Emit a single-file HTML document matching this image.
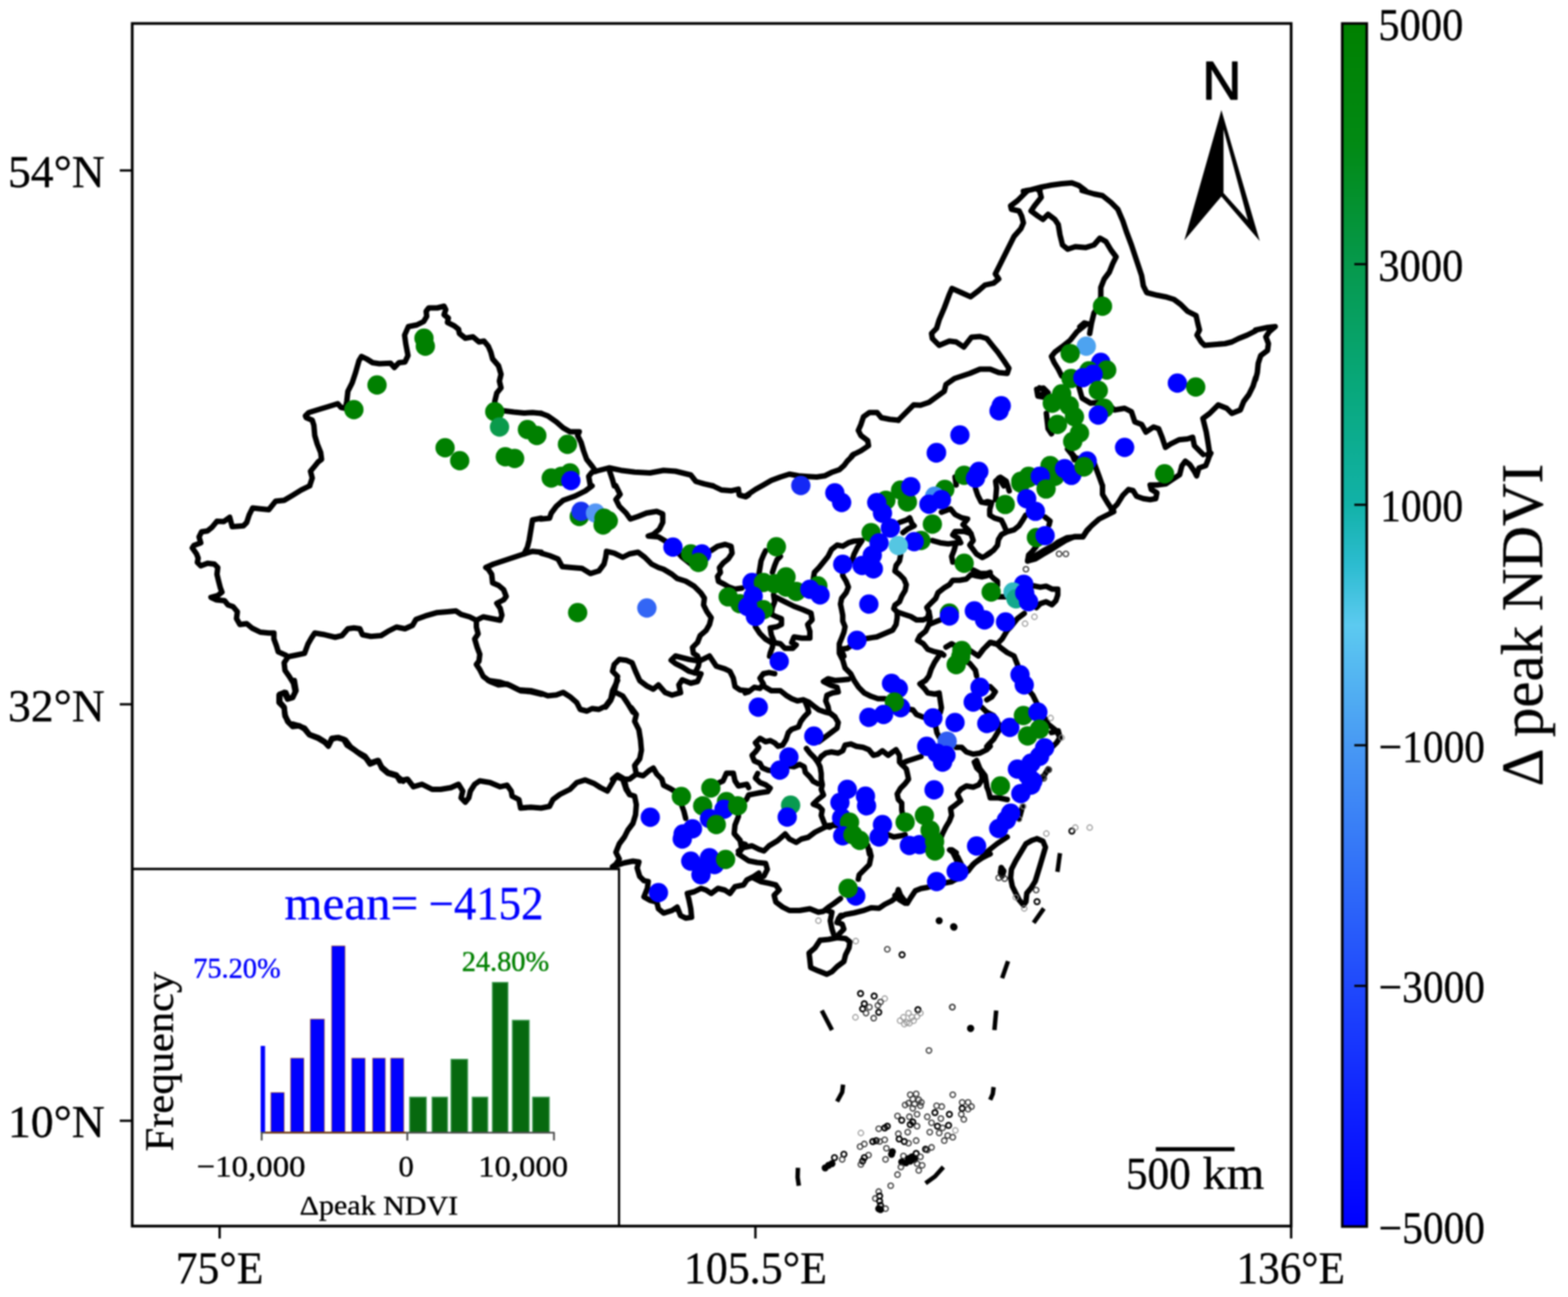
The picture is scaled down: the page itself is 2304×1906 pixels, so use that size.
<!DOCTYPE html>
<html lang="en">
<head>
<meta charset="utf-8">
<title>Δ peak NDVI map</title>
<style>
html,body{margin:0;padding:0;background:#fff;}
body{width:2304px;height:1906px;overflow:hidden;}
svg{display:block;}
text{font-family:"Liberation Serif","DejaVu Serif",serif;fill:#000;stroke:#000;stroke-width:0.5px;stroke-linejoin:round;}
.map path{fill:none;stroke:#000;stroke-width:8;stroke-linejoin:round;stroke-linecap:round;}
</style>
</head>
<body>
<svg xmlns="http://www.w3.org/2000/svg" width="2304" height="1906" viewBox="0 0 2304 1906">
<rect width="2304" height="1906" fill="#fff"/>
<g style="filter:blur(0.85px)">
<g class="map">
<path d="M455 714 L458.8 702.5 L456.2 692.5 L462.5 685 L467.5 678.8 L472.5 675 L471.2 665 L466.2 652.5 L462.5 640 L461.2 625 L458.8 617.5 L450 613.8 L448.8 611.2 L453.8 606.2 L470 601.2 L482.5 597.5 L496.2 593.2 L501.2 598.8 L507.5 600 L509.5 590 L511.2 575 L517.5 562.5 L522.5 547.5 L527.5 530 L531.2 523.8 L538.8 527.5 L547.5 533 L557.5 534.5 L573.8 533.8 L579.5 540 L586.2 533 L595 532 L599.5 522.5 L596.2 505 L594.5 492.5 L600 480 L612.5 477.5 L622.5 472.5 L627 465 L626.2 457.5 L630 452.5 L642.5 452.5 L652.5 450 L655 455 L652.5 462.5 L658.8 467.5 L657.5 473.8 L667.5 478.8 L673.8 483.8 L675 490 L683.8 497 L695 495 L703.8 502.5 L711.2 501.2 L717.5 508.8 L721.2 517.5 L723.8 527.5 L732.5 537.5 L736.2 550 L733.8 560 L736.2 570 L730 577.5 L727 590 L728.8 602.5 L741.2 603.8 L755 605.5 L770 607 L782.5 606.2 L795 607.5"/>
<path d="M795 607.5 L805 611.2 L817.5 620 L827.5 628.8 L837.5 634.5 L851.2 634.5 L848.8 640 L853.8 650 L857.5 662.5 L862 675 L870 685 L875.5 692.5 L895 687.5 L912.5 691.2 L932.5 693.8 L955 695 L975 691.2 L992.5 692.5 L1015 698 L1022.5 707.5 L1035 711.2 L1047.5 714"/>
<path d="M1250.9 671 L1252.5 668.8 L1265 662.5 L1276.2 655 L1275 647.5 L1265 640 L1261.2 632.5 L1265 623.8 L1268.8 612.5 L1277.5 606.2 L1288.8 606.2 L1295 613.8 L1307.5 616.2 L1320 617.5"/>
<path d="M875.5 692.5 L870 693.8 L865 700 L867.5 714"/>
<path d="M895 690 L900 705 L902.5 714"/>
<path d="M1320 617.5 L1330 607.5 L1342.5 595 L1352.5 595.5 L1365 591.2 L1378.8 581.2 L1387.5 575 L1390 565 L1402.5 556.2 L1417.5 551.2 L1425 548.8 L1440 542.5 L1455 542.5 L1467.5 547.5 L1480 548.8 L1482.5 541.2 L1475 530 L1466.2 517.5 L1460 510 L1450 497.5 L1440 494.5 L1427.5 495.5 L1416.2 510 L1405 502.5 L1395 501.2 L1380 507.5 L1370 497.5 L1368.8 490 L1376.2 482.5 L1380 470 L1387.5 452.5 L1395 432.5 L1398.8 423.8 L1412.5 430 L1426.2 436.2 L1437.5 427.5 L1447.5 418.8 L1460 416.2 L1467.5 410 L1462.5 402.5 L1468.8 390 L1475 377.5 L1482.5 362.5 L1490 347.5 L1500 336.2 L1503.8 327.5 L1501.2 317.5 L1497.5 310 L1486.2 307.5 L1485 302.5 L1495 295 L1505 285 L1510 280"/>
<path d="M1527.5 280 L1530 290 L1520 302.5 L1515 310 L1525 317.5 L1532.5 322.5 L1540 315 L1550 322.5 L1555 330 L1557.5 345 L1561.2 360 L1568.8 366.2 L1580 362.5 L1595 363.8 L1607.5 360 L1616.2 350 L1625 355 L1632.5 367.5 L1640 377.5 L1635 387.5 L1630 400 L1622.5 410 L1617.5 422.5 L1617.5 436.2 L1612.5 452.5 L1607.5 460 L1603.8 475 L1601.2 490"/>
<path d="M1595 477.5 L1582.5 487.5 L1572.5 500 L1560 510 L1550 517.5 L1545 523.8 L1548.8 532.5 L1555 542.5 L1560 552.5"/>
<path d="M1590 280 L1607.5 285 L1620 287.5 L1632.5 297.5 L1642.5 307.5 L1650 325 L1655 340 L1662.5 360 L1667.5 375 L1672.5 390 L1677.5 405 L1680 420 L1685 430 L1700 433.8 L1712.5 436.2 L1725 440 L1735 447.5 L1745 457.5 L1757.5 463.8 L1760 475 L1762.5 485 L1758.8 492.5 L1765 502.5 L1770 507.5 L1785 506.2 L1800 505 L1810 502.5 L1820 497.5 L1832.5 492.5 L1845 486.2"/>
<path d="M1585 567.5 L1590 585 L1602.5 592.5 L1615 591.2 L1627.5 592.5 L1637.5 602.5 L1652.5 600 L1662.5 605 L1667.5 620 L1677.5 623.8 L1683.8 635 L1695 627.5 L1702.5 630 L1707.5 642.5 L1712.5 657.5 L1720 652.5 L1732.5 646.2 L1745 645 L1752.5 642.5 L1755 655 L1768 668"/>
<path d="M1773.9 668 L1777.5 666.2"/>
<path d="M1845 555 L1841.2 567.5 L1835 580 L1827.5 590 L1822.5 602.5 L1810 607.5 L1802.5 600 L1790 595 L1777.5 607.5 L1767.5 615 L1772.5 635 L1775 650 L1777.5 666.2 L1776.5 668"/>
<path d="M1527.5 570 L1537.5 575 L1532.5 580 L1525 580"/>
<path d="M1537.5 607.5 L1540 630 L1545 637.5"/>
<path d="M1570 660 L1580 672.5 L1607.5 680 L1615 700 L1620 714"/>
<path d="M1467.5 702.5 L1475 714"/>
<path d="M1510 280 L1503.8 281.2"/>
<path d="M1503.8 281.2 L1515 278.8 L1530 275 L1545 272 L1560 270 L1575 268.8 L1585 272.5 L1595 280"/>
<path d="M1525 278.8 L1528 280.5"/>
<path d="M1845 485 L1862.5 481.2 L1873.8 480 L1865 487.5 L1860 495 L1863.8 505 L1862.5 515 L1852.5 522.5 L1848.8 534 L1847.5 547.5 L1845 557.5"/>
<path d="M455 714 L442.5 720.2 L430 727.8 L417.5 735.2 L405 736.5 L395 749 L382.5 747.8 L371.2 746.5 L366.2 756.5 L362.5 767.8 L357.5 772.8 L341.2 774 L337.5 760.2 L328.8 766.5 L318.8 766 L311.2 775.2 L305 780.2 L296.2 781.5 L292.5 789 L295 797.8 L285 801.5 L282.5 805.2 L288.8 814 L291.2 820.2 L290 826.5 L295 831.5 L305 827.8 L315 829 L320 834 L318.8 844 L321.2 854 L323.8 864 L326.2 870.2 L320 875.2 L310 877.8 L317.5 881.5 L330 882.8 L335 889 L342.5 891.5 L348.8 899 L347.5 909 L352.5 917.8 L362.5 916.5 L370 922.8 L382.5 929 L395 930.2 L402.5 930.2 L402.5 939 L406.2 949 L408.8 957.8 L420 962.8 L422.5 966.5 L417.5 974 L418.8 985.2 L425 994 L431.2 1004 L433.8 1016.5 L430 1025.2 L423.8 1026.5 L420 1017.8 L411.2 1020.2 L411.2 1031.5 L417.5 1039 L418.8 1050.2 L422.5 1060.2 L430 1067.8 L440 1066.5 L447.5 1071.5 L453.8 1079 L467.5 1084 L477.5 1090.2 L482.5 1096.5 L487.5 1086.5 L495 1084 L505 1086.5 L510 1095.2 L520 1101.5 L530 1109 L537.5 1114 L543.8 1122.8 L556.2 1117.8 L561.2 1129 L570 1136.5 L582.5 1140.2 L592.5 1148"/>
<path d="M422.5 965.2 L435 962.8 L447.5 960.2 L452.5 946.5 L457.5 937.8 L462.5 930.2 L477.5 932.8 L492.5 936.5 L502.5 934 L511.2 924 L520 922.8 L528.8 924 L532.5 932.8 L545 935.2 L560 934 L570 927.8 L582.5 921.5 L595 924 L606.2 919 L611.2 910.2 L625 905.2 L642.5 900.2 L657.5 899 L670 897.8 L677.5 902.8 L690 906.5 L700 911.5"/>
<path d="M700 911.5 L710 906.5 L722.5 909 L735 911.5 L737.5 904 L735 894 L730 886.5 L740 881.5 L743.8 876.5 L740 866.5 L732.5 860.2 L723.8 856.5 L722.5 844 L717.5 836.5 L713.8 834 L725 829 L740 824 L755 819 L770 814 L782.5 810.2 L795 811.5"/>
<path d="M770 814 L775 804 L777.5 794 L780 779 L782.5 764 L795 761.5"/>
<path d="M700 911.5 L700 921.5 L702.5 931.5 L697.5 939 L701.2 951.5 L705 961.5 L703.8 971.5 L700 976.5 L705 984 L710 994 L720 1001.5 L732.5 1006.5 L745 1005.2 L755 1010.2 L765 1015.2 L780 1016.5 L795 1020.2"/>
<path d="M870 714 L860 721.5 L845 729 L827.5 735.2 L817.5 744 L810 754 L807.5 761.5 L795 762.8"/>
<path d="M905 714 L911.2 726.5 L905 734 L910 744 L920 754 L926.2 762.8 L937.5 759 L950 754 L965 751.5 L973.8 755.2 L973.8 767.8 L968.8 777.8 L960 785.2 L952.5 787.8 L967.5 789 L980 796.5 L988.8 804 L1002.5 819 L1015 829"/>
<path d="M795 812.8 L807.5 816.5 L820 821.5 L826.2 832.8 L840 834 L855 835.2 L867.5 842.8 L880 839 L887.5 829 L890 819 L891.2 810.2 L902.5 812.8 L915 819 L925 814 L937.5 811.5 L947.5 819 L957.5 829 L967.5 834 L975 836.5 L987.5 844 L995 850.2 L1007.5 854 L1020 861.5 L1030 871.5 L1035 879 L1033.8 889 L1038.8 899 L1045 907.8 L1042.5 917.8 L1037.5 926.5 L1028.8 934 L1025 944 L1017.5 951.5 L1018.8 960.2 L1025 964 L1027.5 971.5"/>
<path d="M1027.5 971.5 L1012.5 969 L1002.5 966.5 L992.5 964 L986.2 970.2 L992.5 975.2 L1002.5 980.2 L1012.5 986.5 L1021.2 989 L1026.2 979 L1027.5 971.5"/>
<path d="M1021.2 989 L1030 990.2 L1025 1001.5 L1015 1004 L1002.5 999 L997.5 1006.5 L1000 1017.8 L987.5 1021.5 L977.5 1017.8 L967.5 1006.5 L960 1012.8 L950 1007.8 L940 1000.2 L933.8 986.5 L928.8 974 L920 970.2 L910 969 L902.5 976.5 L900 986.5 L907.5 994 L905 1006.5 L902.5 1016.5"/>
<path d="M890 1039 L897.5 1029 L902.5 1016.5"/>
<path d="M902.5 1016.5 L915 1022.8 L922.5 1034 L930 1046.5"/>
<path d="M1027.5 971.5 L1035 967.8 L1042.5 964 L1047.5 971.5 L1052.5 979 L1065 982.8 L1072.5 986.5 L1077.5 996.5 L1080 1009 L1087.5 1014 L1100 1015.2"/>
<path d="M1045.7 808.6 L1054.3 802.9 L1065.7 800 L1074.3 802.9 L1075.7 812.9 L1070 821.4 L1062.9 827.1 L1057.1 834.3 L1058.6 841.4 L1054.3 847.1 L1055.7 854.3 L1064.3 858.6 L1071.4 862.9 L1080 865.7 L1090 864.3"/>
<path d="M1450 815.4 L1451.4 814.3 L1460 808.6 L1465.7 801.4 L1467.1 792.9 L1471.4 785.7 L1480 781.4 L1490 778.6 L1497.1 772.9 L1502.9 764.3 L1507.1 757.1"/>
<path d="M1450 737.3 L1451.4 737.1 L1457.1 738.6 L1454.3 748.6 L1454.3 757.1 L1461.4 761.4 L1471.4 764.3 L1475.7 772.9 L1478.6 780"/>
<path d="M1462.9 734.3 L1464.3 717.1 L1462.9 707.1 L1470 701.4 L1478.6 707.1 L1482.9 721.4"/>
<path d="M1450 845 L1454.3 844.3 L1460 850 L1465.7 854.3 L1465.7 860"/>
<path d="M1510 824.3 L1521.4 821.4 L1532.9 814.3 L1542.9 808.6 L1554.3 801.4 L1565.7 794.3 L1578.6 788.6 L1591.4 788.6 L1597.1 780 L1600 777.1"/>
<path d="M1510 824.3 L1511.4 815.7 L1517.1 810 L1522.9 802.9"/>
<path d="M1512.9 820 L1522.9 815.7 L1534.3 808.6 L1545.7 802.9"/>
<path d="M1535.7 760 L1542.9 765.7 L1541.4 771.4"/>
<path d="M1514.3 860 L1528.6 862.9 L1537.1 861.4 L1545.7 865.7 L1554.3 865.7 L1554.3 874.3 L1551.4 882.9 L1545.7 888.6 L1537.1 884.3 L1528.6 887.1 L1522.9 892.9"/>
<path d="M1465.7 877.1 L1477.1 877.1"/>
<path d="M1568.6 660 L1575.7 668.6 L1578.6 675.7"/>
<path d="M1636.5 752 L1627.5 756.5 L1615 762.8 L1605 771.5 L1597.5 779 L1591.2 789 L1580 789 L1567.5 790.2 L1555 796.5 L1545 804"/>
<path d="M1620 714 L1620 726.5 L1627.5 739 L1632.5 746.5 L1636 750"/>
<path d="M1505 901.5 L1495 909 L1485 921.5 L1480 926.5 L1472.5 939 L1465 946.5 L1470 951.5 L1480 959 L1490 964 L1495 976.5 L1498.8 991.5 L1505 1006.5 L1517.5 1021.5 L1522.5 1031.5 L1530 1046.5 L1540 1064 L1552.5 1074 L1557.5 1084 L1552.5 1091.5 L1545 1099"/>
<path d="M1545 1076.5 L1555 1074 L1557.5 1084"/>
<path d="M1465 946.5 L1455 944 L1450 949"/>
<path d="M1450 1009 L1455 1009 L1462.5 1016.5 L1457.5 1024 L1450 1028.5"/>
<path d="M1450 1046.5 L1460 1051.5 L1467.5 1064 L1467.5 1074 L1460 1086.5 L1452.5 1094 L1450 1097.1"/>
<path d="M432.5 1000 L435 1015 L430 1025 L422.5 1027.5 L417.5 1017.5 L410 1021.2 L410 1032.5 L417.5 1040 L418.8 1052.5 L425 1062.5 L437.5 1066.2 L447.5 1070 L455 1080 L467.5 1085 L477.5 1091.2 L482.5 1096.2 L487.5 1085 L497.5 1083.8 L507.5 1087.5 L515 1097.5 L525 1105 L536.2 1111.2 L543.8 1121.2 L555 1117.5 L561.2 1127.5 L570 1135 L582.5 1138.8 L587.5 1147.5 L598.8 1145 L607.5 1156.2 L620 1152.5 L635 1160 L647.5 1160 L662.5 1157.5 L673.8 1152.5 L680 1162.5 L677.5 1172.5 L683.8 1178.8 L688.8 1172.5 L691.2 1162.5 L697.5 1152.5 L705 1147.5 L720 1150 L735 1156.2 L745 1153.8 L751.2 1162.5 L752.5 1170 L762.5 1175 L765 1187.5 L780 1186.2 L795 1187.5 L807.5 1185 L812.5 1175 L822.5 1167.5 L837.5 1160 L847.5 1150 L860 1146.2 L872.5 1151.2 L882.5 1157.5 L892.5 1162.5 L900 1150 L905 1141.2 L915 1145 L920 1160 L925 1167.5"/>
<path d="M717.5 1000 L735 1002.5 L750 1007.5 L762.5 1013.8 L780 1015 L795 1018.8 L805 1022.5 L817.5 1021.2 L827.5 1017.5 L837.5 1023.8 L847.5 1032.5 L852.5 1042.5 L862.5 1045 L870 1041.2 L880 1042.5 L890 1037.5 L897.5 1027.5 L900 1015 L905 1005 L907.5 1000"/>
<path d="M927.5 1040 L935 1050 L932.5 1060 L938.8 1072.5 L941.2 1087.5 L942.5 1102.5 L940 1115 L932.5 1125 L935 1137.5 L925 1145 L917.5 1145"/>
<path d="M900 1145 L907.5 1138.8 L917.5 1145 L920 1157.5 L925 1167.5 L932.5 1170 L935 1182.5 L933.8 1197.5 L930 1210 L922.5 1220 L917.5 1230 L910 1240 L905 1252.5 L910 1262.5 L905 1270 L900 1273.8"/>
<path d="M935 1137.5 L945 1140 L953.8 1132.5 L960 1128.8 L965 1137.5 L972.5 1145 L975 1153.8 L985 1158.8 L995 1165 L1005 1192.5 L1007.5 1202.5"/>
<path d="M1043.8 1156.2 L1062.5 1147.5 L1067.5 1136.2 L1077.5 1136.2 L1080 1147.5 L1085 1155 L1097.5 1152.5 L1100 1157.5"/>
<path d="M1095 1240.8 L1092.5 1240"/>
<path d="M1085 1190 L1085 1200 L1080 1212.5 L1078.8 1225 L1087.5 1235 L1090 1247.5 L1085 1255 L1092.5 1260 L1100 1265 L1112.5 1267.5 L1125 1268.8 L1127.5 1277.5 L1122.5 1287.5 L1112.5 1290"/>
<path d="M1397.5 1249 L1400 1250 L1407.5 1260 L1412.5 1270"/>
<path d="M905 1271.8 L917.5 1268 L930 1265.5 L938.8 1266.8 L936.2 1275.5 L940 1288 L946.2 1294.2 L952.5 1295.5 L951.2 1305.5 L946.2 1318 L955 1323 L965 1325.5 L967.5 1335.5 L975 1341.8 L987.5 1338 L995 1333 L1000 1345.5 L1007.5 1349.2 L1016.2 1348 L1015 1335.5 L1012.5 1323 L1010 1313 L1020 1310.5 L1030 1305.5 L1037.5 1308 L1045 1313 L1055 1305.5 L1065 1308 L1072.5 1313 L1080 1303 L1092.5 1300.5 L1097.5 1293 L1107.5 1288 L1115 1283"/>
<path d="M1107.5 1290.5 L1117.5 1295.5 L1130 1298 L1140 1300.5 L1145 1308 L1137.5 1315.5 L1140 1325.5 L1150 1333 L1160 1338 L1175 1338 L1190 1335.5 L1202.5 1340.5 L1210 1339.2 L1217.5 1333 L1225 1328 L1235 1320.5"/>
<path d="M1215 1338 L1222.5 1340.5 L1220 1353 L1222.5 1365.5 L1225 1373"/>
<path d="M1232.5 1373 L1240 1365.5 L1237.5 1358 L1230 1355.5 L1235 1345.5 L1236 1345.1"/>
<path d="M1205 1381.8 L1217.5 1380.5 L1230 1378 L1242.5 1379.2 L1248.8 1384.2 L1247.5 1393 L1242.5 1403 L1240 1413 L1230 1420.5 L1222.5 1428 L1215 1431.8 L1202.5 1426.8 L1191.2 1421.8 L1190 1410.5 L1188.8 1400.5 L1197.5 1393 L1205 1381.8"/>
<path d="M1277.8 1249 L1280 1258 L1277.5 1270.5 L1270 1278 L1262.5 1285.5 L1261.2 1292"/>
<path d="M1399 1249 L1405 1253"/>
<path d="M1523.8 1232.5 L1532.5 1236.2 L1536.2 1245 L1532.5 1257.5 L1528.8 1270 L1525 1282.5 L1521.2 1295 L1515 1305 L1508.8 1312.5 L1507.5 1325 L1503.8 1330 L1497.5 1322.5 L1492.5 1312.5 L1487.5 1302.5 L1485 1290 L1486.2 1277.5 L1492.5 1265 L1500 1252.5 L1507.5 1240 L1516.2 1235 L1523.8 1232.5"/>
<path d="M1471.2 1275 L1475 1280 L1472.5 1287.5 L1470 1282.5 L1471.2 1275"/>
<path d="M1540 1130 L1532.5 1142.5 L1525 1150"/>
<path d="M1502.5 1185 L1497.5 1203.8"/>
<path d="M1480 1230 L1465 1240 L1452.5 1250 L1442.5 1260 L1430 1270 L1422.5 1280 L1410 1290 L1406 1292"/>
<path d="M1450 1156.2 L1452.5 1162.5 L1455 1172.5 L1467.5 1172.5 L1480 1175"/>
<path d="M1395.3 1249 L1400 1252.5 L1405 1262.5 L1408.8 1272.5"/>
<path d="M1047.5 714 L1060 720 L1075 721.2 L1085 718.8 L1086.2 727.5 L1096.2 730 L1100 727.5"/>
<path d="M1095 1018.3 L1100 1016.7 L1108.3 1010 L1116.7 1011.7 L1121.7 1005 L1116.7 996.7 L1121.7 990 L1130 988.3 L1138.3 990"/>
<path d="M1121.7 1008.3 L1133.3 1015 L1146.7 1015 L1155 1021.7 L1163.3 1026.7 L1171.7 1030 L1180 1028.3 L1188.3 1031.7 L1196.7 1038.3 L1203.3 1043.3 L1213.3 1046.7 L1220 1048.3 L1226.7 1053.3 L1231.7 1061.7 L1230 1070 L1223.3 1075 L1216.7 1080 L1210 1085 L1203.3 1090"/>
<path d="M1183.3 1031.7 L1186.7 1040 L1188.3 1046.7 L1181.7 1053.3 L1176.7 1060 L1173.3 1068.3 L1163.3 1071.7 L1158.3 1076.7 L1155 1086.7 L1150 1095 L1143.3 1096.7 L1138.3 1091.7 L1131.7 1088.3 L1125 1090 L1116.7 1085 L1110 1091.7 L1115 1098.3 L1110 1105 L1105 1110 L1108.3 1118.3 L1116.7 1121.7 L1120 1128.3 L1128.3 1131.7 L1138.3 1133.3"/>
<path d="M1155 1125 L1166.7 1126.7 L1175 1123.3 L1181.7 1126.7 L1183.3 1135 L1190 1141.7 L1195 1148.3 L1201.7 1151.7"/>
<path d="M1113.3 1136.7 L1110 1143.3 L1116.7 1150 L1125 1153.3 L1131.7 1158.3 L1128.3 1163.3 L1116.7 1165 L1108.3 1166.7 L1100 1168.3 L1096.7 1175"/>
<path d="M1185 1100 L1190 1106.7 L1196.7 1113.3 L1201.7 1120 L1205 1126.7 L1206.7 1136.7 L1206.7 1145 L1208.3 1153.3 L1206.7 1160 L1210 1168.3 L1201.7 1175 L1195 1181.7 L1203.3 1185 L1208.3 1190 L1206.7 1198.3 L1210 1206.7 L1213.3 1215 L1220 1215 L1226.7 1210"/>
<path d="M1233.3 956.7 L1233.3 960 L1238.3 970 L1241.7 981.7 L1250 990 L1255 1000 L1261.7 1010 L1270 1018.3 L1280 1023.3 L1290 1026.7 L1300 1026.7"/>
<path d="M1246.7 998.3 L1236.7 999.2 L1226.7 1000 L1216.7 997.5 L1210 1001.7 L1220 1006.7 L1230 1010 L1231.7 1016.7 L1223.3 1018.3 L1215 1021.7 L1213.3 1030 L1216.7 1038.3 L1218.3 1046.7 L1226.7 1053.3"/>
<path d="M1206.7 1111.7 L1213.3 1106.7 L1221.7 1105 L1231.7 1106.7 L1238.3 1103.3 L1241.7 1095 L1250 1093.3 L1258.3 1096.7 L1268.3 1098.3 L1276.7 1101.7 L1283.3 1110 L1290 1108.3 L1296.7 1103.3 L1305 1110 L1311.7 1105 L1316.7 1101.7 L1321.7 1110 L1321.7 1120 L1325 1123.3"/>
<path d="M1325 1121.7 L1333.3 1118.3 L1343.3 1115 L1353.3 1111.7"/>
<path d="M1325 1123.3 L1331.7 1130 L1333.3 1136.7 L1335 1145 L1330 1151.7 L1323.3 1158.3 L1318.3 1166.7 L1320 1175 L1325 1180 L1325 1190 L1326.7 1200"/>
<path d="M1380 963.3 L1373.3 973.3 L1368.3 983.3 L1365 993.3 L1360 1000 L1351.7 1005 L1358.3 1011.7 L1363.3 1018.3 L1373.3 1020 L1380 1018.3 L1381.7 1030 L1383.3 1040 L1381.7 1046.7"/>
<path d="M1375 1068.3 L1376.7 1076.7 L1380 1083.3"/>
<path d="M1333.3 1041.7 L1341.7 1043.3 L1346.7 1050 L1355 1053.3 L1361.7 1055"/>
<path d="M1405 1098.3 L1413.3 1098.3 L1420 1105 L1430 1108.3 L1440 1106.7 L1450 1101.7 L1455 1096.7"/>
<path d="M1431.7 1120 L1435 1128.3 L1441.7 1135 L1443.3 1145 L1438.3 1153.3 L1430 1156.7 L1420 1155 L1411.7 1160 L1406.7 1166.7 L1411.7 1176.7 L1403.3 1183.3 L1396.7 1188.3 L1398.3 1198.3 L1395 1206.7 L1390 1215 L1385 1225 L1381.7 1233.3"/>
<path d="M1416.7 970 L1425 975 L1433.3 985 L1435 993.3"/>
<path d="M1443.3 1040 L1450 1046.7"/>
<path d="M1219 1215.5 L1220 1215"/>
<path d="M1305 1226.7 L1313.3 1230 L1323.3 1228.3 L1330 1226.7"/>
<path d="M1201.7 1120 L1206.7 1111.7"/>
<path d="M1095 729.3 L1100 726 L1110 719.3 L1121.7 712.7 L1133.3 706 L1146.7 701 L1160 696.8 L1173.3 699.3 L1186.7 700.2 L1200 701 L1211.7 699.3 L1221.7 694.3 L1233.3 690.2 L1240 684.3 L1245 677.7 L1251.7 671 L1254.2 667.7"/>
<path d="M1115 844.3 L1116.7 834.3 L1118.3 824.3 L1121.7 816 L1125 809.3"/>
<path d="M1135 841 L1138.3 831 L1141.7 822.7 L1146.7 817.7"/>
<path d="M1195 851 L1196.7 841 L1203.3 834.3 L1210 826 L1216.7 817.7 L1221.7 807.7 L1230 801 L1238.3 802.7 L1246.7 797.7 L1255 795.2 L1266.7 794.3 L1260 804.3 L1255 814.3 L1251.7 824.3"/>
<path d="M1238.3 837.7 L1238.3 846 L1243.3 854.3 L1246.7 862.7 L1243.3 871 L1236.7 879.3 L1235 887.7 L1236.7 896 L1238.3 904.3 L1238.3 912.7 L1241.7 921 L1240 929.3 L1236.7 937.7 L1233.3 946 L1233.3 954.3 L1238.3 960 L1240 964.3"/>
<path d="M1323.3 809.3 L1323.3 816 L1321.7 824.3 L1316.7 831 L1315 839.3 L1321.7 844.3 L1328.3 851 L1331.7 859.3 L1330 867.7 L1325 876 L1321.7 884.3 L1315 889.3 L1313.3 894.3 L1318.3 899.3 L1318.3 907.7 L1316.7 917.7 L1311.7 926 L1300 931 L1288.3 936 L1276.7 937.7 L1266.7 939.3 L1255 946 L1245 952.7 L1235 954.3"/>
<path d="M1318.3 899.3 L1328.3 902.7 L1338.3 906 L1346.7 911 L1356.7 911 L1363.3 907.7 L1365 899.3"/>
<path d="M1365 899.3 L1361.7 892.7 L1368.3 886 L1375 879.3 L1378.3 871 L1386.7 864.3 L1395 859.3 L1400 852.7 L1410 852.7 L1420 851 L1426.7 844.3 L1433.3 846 L1443.3 847.7 L1450 846 L1455 844.3"/>
<path d="M1365 899.3 L1366.7 907.7 L1365 917.7 L1373.3 914.3 L1381.7 911"/>
<path d="M1365 917.7 L1360 927.7 L1351.7 934.3 L1348.3 941 L1356.7 946 L1363.3 954.3 L1373.3 957.7 L1383.3 960 L1386.7 962.7"/>
<path d="M1390 951 L1398.3 946 L1406.7 951"/>
<path d="M1321.7 767.7 L1331.7 764.3 L1336.7 761 L1340 769.3 L1343.3 772.7 L1333.3 777.7 L1326.7 782.7"/>
<path d="M1383.3 752.7 L1396.7 747.7 L1403.3 756 L1413.3 761 L1421.7 762.7 L1415 771 L1423.3 779.3 L1426.7 784.3 L1416.7 781 L1403.3 781 L1400 786 L1408.3 791 L1411.7 797.7 L1405 797.7 L1393.3 799.3 L1381.7 797.7 L1370 794.3"/>
<path d="M1426.7 784.3 L1430 794.3 L1425 801 L1430 807.7 L1435 814.3 L1443.3 819.3 L1450 816 L1455 812.7"/>
<path d="M1405 797.7 L1401.7 809.3 L1398.3 817.7 L1400 826"/>
<path d="M1430 837.7 L1440 842.7 L1450 842.7 L1455 841"/>
<path d="M1403.3 701 L1405 712.7"/>
<path d="M1433.3 717.7 L1436.7 727.7 L1441.7 737.7 L1450 739.3 L1455 739.3"/>
<path d="M1136.7 874.3 L1138.3 884.3 L1135 892.7 L1133.3 902.7 L1140 906 L1148.3 909.3 L1148.3 917.7 L1141.7 921 L1131.7 922.7 L1133.3 932.7 L1136.7 941 L1135 951 L1131.7 960 L1130.8 964.3"/>
<path d="M1140 877.7 L1153.3 884.3 L1166.7 891 L1180 896 L1191.7 901 L1193.3 911 L1186.7 917.7 L1190 927.7 L1190 937.7 L1178.3 937.7 L1166.7 936 L1163.3 944.3 L1170 947.7 L1165 952.7 L1153.3 952.7 L1146.7 946 L1136.7 944.3"/>
<path d="M1110 921 L1116.7 931 L1125 939.3 L1133.3 944.3"/>
<path d="M1633.3 749.3 L1641.7 741 L1650 727.7 L1658.3 719.3 L1665 721 L1670 729.3 L1680 732.7 L1690 734.3 L1698.3 732.7 L1700 724.3 L1691.7 719.3 L1690 712.7 L1700 712.7 L1713.3 711 L1723.3 704.3 L1733.3 697.7 L1736.7 684.3 L1741.7 677.7 L1748.3 682.7 L1755 692.7 L1758.3 699.3 L1761.7 687.7 L1771.7 684.3 L1775 676 L1776.7 671 L1779.2 666"/>
<path d="M1275 1242.5 L1277.5 1255"/>
<path d="M1435 1117.5 L1440 1130 L1447.5 1140 L1450 1155"/>
<path d="M1230 1355.7 L1232.5 1349 L1241.7 1344 L1255 1341.5 L1268.3 1338.2 L1280 1334 L1291.7 1334.8 L1300 1329 L1310 1324 L1316.7 1319 L1320 1307.3 L1323.3 1315.7 L1328.3 1322.3 L1333.3 1327.3 L1338.3 1319 L1345 1309 L1353.3 1305.7 L1363.3 1304 L1375 1300.7 L1390 1297.3 L1398.3 1295.7 L1406.7 1290.7 L1416.7 1282.3 L1425 1275.7 L1433.3 1267.3 L1443.3 1260.7 L1450 1257.3 L1455 1254.8"/>
<path d="M1315 1315.7 L1321.7 1322.3 L1330 1327.3"/>
<path d="M1586.7 480.3 L1593.3 474.5 L1600.8 476.7"/>
<path d="M1523.3 572 L1533.3 570.3 L1540 577 L1533.3 583.7 L1525 582 L1523.3 572"/>
<path d="M1422.5 954 L1430 959 L1437.5 964 L1445 954 L1455 944 L1465 946.5"/>
<path d="M1085 1250.5 L1092.5 1245.5 L1105 1243 L1115 1248 L1122.5 1250.5 L1130 1243 L1142.5 1235.5 L1153.8 1225.5 L1160 1233 L1170 1238 L1177.5 1233 L1187.5 1230.5 L1197.5 1223 L1207.5 1218 L1217.5 1213 L1230 1213"/>
</g>
<g fill="none" stroke="#000" stroke-width="6.5" stroke-linecap="butt">
<path d="M1557.5 1253.8 L1553.8 1281.2"/>
<path d="M1533.8 1335 L1518.8 1356.2"/>
<path d="M1481.2 1412.5 L1472.5 1437.5"/>
<path d="M1463.8 1485 L1461.2 1513.8"/>
<path d="M1460 1597.5 L1458.8 1607.5 L1455 1616.2"/>
<path d="M1386.2 1715 L1373.8 1728.8 L1360 1738.8"/>
<path d="M1172.5 1716.2 L1172 1730 L1173.8 1742.5"/>
<path d="M1238.8 1593.8 L1237.5 1605 L1230 1618.8"/>
<path d="M1207.5 1485 L1222.5 1513.8"/>
</g>
<g class="isl">
<circle cx="1264.5" cy="1460" r="3.9" fill="none" stroke="#000" stroke-width="2.6"/>
<circle cx="1284.5" cy="1463.8" r="3.9" fill="none" stroke="#000" stroke-width="2.6"/>
<circle cx="1300" cy="1467.5" r="3.9" fill="none" stroke="#8a8a8a" stroke-width="1.5"/>
<circle cx="1270" cy="1475" r="3.9" fill="none" stroke="#000" stroke-width="2.6"/>
<circle cx="1267.5" cy="1482.5" r="3.9" fill="none" stroke="#000" stroke-width="2.6"/>
<circle cx="1290" cy="1477.5" r="3.9" fill="none" stroke="#333" stroke-width="1.9"/>
<circle cx="1291.2" cy="1487.5" r="3.9" fill="none" stroke="#000" stroke-width="2.6"/>
<circle cx="1272.5" cy="1488.8" r="3.9" fill="none" stroke="#333" stroke-width="1.9"/>
<circle cx="1283.8" cy="1496.2" r="3.9" fill="none" stroke="#333" stroke-width="1.9"/>
<circle cx="1257" cy="1495" r="3.9" fill="none" stroke="#8a8a8a" stroke-width="1.5"/>
<circle cx="1277.5" cy="1480" r="3.9" fill="none" stroke="#333" stroke-width="1.9"/>
<circle cx="1293.8" cy="1472.5" r="3.9" fill="none" stroke="#333" stroke-width="1.9"/>
<circle cx="1348.8" cy="1483.8" r="3.9" fill="none" stroke="#000" stroke-width="2.6"/>
<circle cx="1335" cy="1488.8" r="3.9" fill="none" stroke="#8a8a8a" stroke-width="1.5"/>
<circle cx="1352.5" cy="1488.8" r="3.9" fill="none" stroke="#8a8a8a" stroke-width="1.5"/>
<circle cx="1327.5" cy="1495" r="3.9" fill="none" stroke="#8a8a8a" stroke-width="1.5"/>
<circle cx="1340" cy="1495" r="3.9" fill="none" stroke="#8a8a8a" stroke-width="1.5"/>
<circle cx="1322.5" cy="1500" r="3.9" fill="none" stroke="#8a8a8a" stroke-width="1.5"/>
<circle cx="1332.5" cy="1502.5" r="3.9" fill="none" stroke="#8a8a8a" stroke-width="1.5"/>
<circle cx="1342.5" cy="1500" r="3.9" fill="none" stroke="#8a8a8a" stroke-width="1.5"/>
<circle cx="1328.8" cy="1505" r="3.9" fill="none" stroke="#8a8a8a" stroke-width="1.5"/>
<circle cx="1336.2" cy="1503.8" r="3.9" fill="none" stroke="#8a8a8a" stroke-width="1.5"/>
<circle cx="1347.5" cy="1493.8" r="3.9" fill="none" stroke="#8a8a8a" stroke-width="1.5"/>
<circle cx="1303.8" cy="1395" r="3.9" fill="none" stroke="#333" stroke-width="1.9"/>
<circle cx="1325.5" cy="1403" r="3.9" fill="none" stroke="#000" stroke-width="2.6"/>
<circle cx="1399.5" cy="1480" r="3.9" fill="none" stroke="#333" stroke-width="1.9"/>
<circle cx="1426.2" cy="1511.2" r="3.9" fill="#000" stroke="#000" stroke-width="2.6"/>
<circle cx="1365" cy="1543.8" r="3.9" fill="none" stroke="#333" stroke-width="1.9"/>
<circle cx="1400" cy="1608.8" r="3.9" fill="none" stroke="#333" stroke-width="1.9"/>
<circle cx="1337.5" cy="1608.8" r="3.9" fill="none" stroke="#333" stroke-width="1.9"/>
<circle cx="1346.2" cy="1607.5" r="3.9" fill="none" stroke="#333" stroke-width="1.9"/>
<circle cx="1341.2" cy="1615" r="3.9" fill="none" stroke="#333" stroke-width="1.9"/>
<circle cx="1350" cy="1616.2" r="3.9" fill="none" stroke="#333" stroke-width="1.9"/>
<circle cx="1335" cy="1621.2" r="3.9" fill="none" stroke="#333" stroke-width="1.9"/>
<circle cx="1343.8" cy="1622.5" r="3.9" fill="none" stroke="#333" stroke-width="1.9"/>
<circle cx="1353.8" cy="1620" r="3.9" fill="none" stroke="#333" stroke-width="1.9"/>
<circle cx="1330" cy="1623.8" r="3.9" fill="none" stroke="#333" stroke-width="1.9"/>
<circle cx="1341.2" cy="1628.8" r="3.9" fill="none" stroke="#333" stroke-width="1.9"/>
<circle cx="1352.5" cy="1625" r="3.9" fill="none" stroke="#333" stroke-width="1.9"/>
<circle cx="1376.2" cy="1625" r="3.9" fill="none" stroke="#333" stroke-width="1.9"/>
<circle cx="1383.8" cy="1626.2" r="3.9" fill="none" stroke="#333" stroke-width="1.9"/>
<circle cx="1373.8" cy="1635" r="3.9" fill="none" stroke="#000" stroke-width="2.6"/>
<circle cx="1382.5" cy="1643.8" r="3.9" fill="none" stroke="#333" stroke-width="1.9"/>
<circle cx="1362.5" cy="1641.2" r="3.9" fill="none" stroke="#333" stroke-width="1.9"/>
<circle cx="1368.8" cy="1650" r="3.9" fill="none" stroke="#333" stroke-width="1.9"/>
<circle cx="1377.5" cy="1655" r="3.9" fill="none" stroke="#000" stroke-width="2.6"/>
<circle cx="1385" cy="1657.5" r="3.9" fill="none" stroke="#333" stroke-width="1.9"/>
<circle cx="1366.2" cy="1663.8" r="3.9" fill="none" stroke="#333" stroke-width="1.9"/>
<circle cx="1380" cy="1665" r="3.9" fill="none" stroke="#333" stroke-width="1.9"/>
<circle cx="1395" cy="1637.5" r="3.9" fill="none" stroke="#000" stroke-width="2.6"/>
<circle cx="1393.8" cy="1653.8" r="3.9" fill="none" stroke="#000" stroke-width="2.6"/>
<circle cx="1403.8" cy="1661.2" r="3.9" fill="none" stroke="#8a8a8a" stroke-width="1.5"/>
<circle cx="1392.5" cy="1668.8" r="3.9" fill="none" stroke="#333" stroke-width="1.9"/>
<circle cx="1400" cy="1671.2" r="3.9" fill="none" stroke="#333" stroke-width="1.9"/>
<circle cx="1387.5" cy="1676.2" r="3.9" fill="none" stroke="#333" stroke-width="1.9"/>
<circle cx="1413.8" cy="1620" r="3.9" fill="none" stroke="#333" stroke-width="1.9"/>
<circle cx="1422.5" cy="1620" r="3.9" fill="none" stroke="#333" stroke-width="1.9"/>
<circle cx="1427.5" cy="1626.2" r="3.9" fill="none" stroke="#333" stroke-width="1.9"/>
<circle cx="1413.8" cy="1628.8" r="3.9" fill="none" stroke="#000" stroke-width="2.6"/>
<circle cx="1422.5" cy="1630" r="3.9" fill="none" stroke="#333" stroke-width="1.9"/>
<circle cx="1412.5" cy="1637.5" r="3.9" fill="none" stroke="#333" stroke-width="1.9"/>
<circle cx="1416.2" cy="1645" r="3.9" fill="none" stroke="#333" stroke-width="1.9"/>
<circle cx="1318.8" cy="1640" r="3.9" fill="none" stroke="#333" stroke-width="1.9"/>
<circle cx="1325" cy="1646.2" r="3.9" fill="none" stroke="#000" stroke-width="2.6"/>
<circle cx="1336.2" cy="1641.2" r="3.9" fill="none" stroke="#333" stroke-width="1.9"/>
<circle cx="1347.5" cy="1637.5" r="3.9" fill="none" stroke="#333" stroke-width="1.9"/>
<circle cx="1341.2" cy="1648.8" r="3.9" fill="none" stroke="#000" stroke-width="2.6"/>
<circle cx="1337.5" cy="1652.5" r="3.9" fill="none" stroke="#000" stroke-width="2.6"/>
<circle cx="1347.5" cy="1655" r="3.9" fill="none" stroke="#333" stroke-width="1.9"/>
<circle cx="1333.8" cy="1663.8" r="3.9" fill="none" stroke="#333" stroke-width="1.9"/>
<circle cx="1320" cy="1666.2" r="3.9" fill="none" stroke="#333" stroke-width="1.9"/>
<circle cx="1291.2" cy="1658.8" r="3.9" fill="none" stroke="#333" stroke-width="1.9"/>
<circle cx="1300" cy="1657.5" r="3.9" fill="none" stroke="#000" stroke-width="2.6"/>
<circle cx="1303.8" cy="1655" r="3.9" fill="none" stroke="#000" stroke-width="2.6"/>
<circle cx="1265" cy="1665" r="3.9" fill="none" stroke="#8a8a8a" stroke-width="1.5"/>
<circle cx="1321.2" cy="1673.8" r="3.9" fill="none" stroke="#000" stroke-width="2.6"/>
<circle cx="1328.8" cy="1677.5" r="3.9" fill="none" stroke="#000" stroke-width="2.6"/>
<circle cx="1335" cy="1680" r="3.9" fill="none" stroke="#333" stroke-width="1.9"/>
<circle cx="1346.2" cy="1676.2" r="3.9" fill="none" stroke="#333" stroke-width="1.9"/>
<circle cx="1282.5" cy="1677.5" r="3.9" fill="none" stroke="#000" stroke-width="2.6"/>
<circle cx="1287.5" cy="1676.2" r="3.9" fill="none" stroke="#000" stroke-width="2.6"/>
<circle cx="1292.5" cy="1677.5" r="3.9" fill="none" stroke="#333" stroke-width="1.9"/>
<circle cx="1300" cy="1675" r="3.9" fill="none" stroke="#333" stroke-width="1.9"/>
<circle cx="1270" cy="1681.2" r="3.9" fill="none" stroke="#333" stroke-width="1.9"/>
<circle cx="1263.8" cy="1685" r="3.9" fill="none" stroke="#333" stroke-width="1.9"/>
<circle cx="1302.5" cy="1687.5" r="3.9" fill="none" stroke="#333" stroke-width="1.9"/>
<circle cx="1311.2" cy="1692.5" r="3.9" fill="#000" stroke="#000" stroke-width="2.6"/>
<circle cx="1310" cy="1696.2" r="3.9" fill="#000" stroke="#000" stroke-width="2.6"/>
<circle cx="1301.2" cy="1703.8" r="3.9" fill="none" stroke="#333" stroke-width="1.9"/>
<circle cx="1360" cy="1688.8" r="3.9" fill="none" stroke="#000" stroke-width="2.6"/>
<circle cx="1368.8" cy="1686.2" r="3.9" fill="none" stroke="#333" stroke-width="1.9"/>
<circle cx="1362.5" cy="1690" r="3.9" fill="none" stroke="#333" stroke-width="1.9"/>
<circle cx="1276.2" cy="1697.5" r="3.9" fill="none" stroke="#333" stroke-width="1.9"/>
<circle cx="1270" cy="1701.2" r="3.9" fill="none" stroke="#000" stroke-width="2.6"/>
<circle cx="1267.5" cy="1706.2" r="3.9" fill="none" stroke="#000" stroke-width="2.6"/>
<circle cx="1265" cy="1711.2" r="3.9" fill="none" stroke="#333" stroke-width="1.9"/>
<circle cx="1240" cy="1696.2" r="3.9" fill="none" stroke="#000" stroke-width="2.6"/>
<circle cx="1237.5" cy="1703.8" r="3.9" fill="none" stroke="#333" stroke-width="1.9"/>
<circle cx="1226.2" cy="1701.2" r="3.9" fill="none" stroke="#000" stroke-width="2.6"/>
<circle cx="1222.5" cy="1710" r="3.9" fill="#000" stroke="#000" stroke-width="2.6"/>
<circle cx="1217.5" cy="1712.5" r="3.9" fill="#000" stroke="#000" stroke-width="2.6"/>
<circle cx="1212.5" cy="1716.2" r="3.9" fill="#000" stroke="#000" stroke-width="2.6"/>
<circle cx="1327.5" cy="1698.8" r="3.9" fill="none" stroke="#333" stroke-width="1.9"/>
<circle cx="1335" cy="1702.5" r="3.9" fill="#000" stroke="#000" stroke-width="2.6"/>
<circle cx="1340" cy="1700" r="3.9" fill="#000" stroke="#000" stroke-width="2.6"/>
<circle cx="1346.2" cy="1695" r="3.9" fill="none" stroke="#000" stroke-width="2.6"/>
<circle cx="1352.5" cy="1700" r="3.9" fill="none" stroke="#333" stroke-width="1.9"/>
<circle cx="1325" cy="1707.5" r="3.9" fill="#000" stroke="#000" stroke-width="2.6"/>
<circle cx="1331.2" cy="1708.8" r="3.9" fill="#000" stroke="#000" stroke-width="2.6"/>
<circle cx="1337.5" cy="1706.2" r="3.9" fill="#000" stroke="#000" stroke-width="2.6"/>
<circle cx="1343.8" cy="1703.8" r="3.9" fill="#000" stroke="#000" stroke-width="2.6"/>
<circle cx="1323.8" cy="1715" r="3.9" fill="none" stroke="#333" stroke-width="1.9"/>
<circle cx="1347.5" cy="1710" r="3.9" fill="none" stroke="#333" stroke-width="1.9"/>
<circle cx="1355" cy="1712.5" r="3.9" fill="none" stroke="#333" stroke-width="1.9"/>
<circle cx="1350" cy="1720" r="3.9" fill="none" stroke="#333" stroke-width="1.9"/>
<circle cx="1318.8" cy="1726.2" r="3.9" fill="none" stroke="#333" stroke-width="1.9"/>
<circle cx="1308.8" cy="1742.5" r="3.9" fill="none" stroke="#333" stroke-width="1.9"/>
<circle cx="1291.2" cy="1751.2" r="3.9" fill="none" stroke="#333" stroke-width="1.9"/>
<circle cx="1292.5" cy="1757.5" r="3.9" fill="none" stroke="#000" stroke-width="2.6"/>
<circle cx="1286.2" cy="1761.2" r="3.9" fill="none" stroke="#333" stroke-width="1.9"/>
<circle cx="1292.5" cy="1765" r="3.9" fill="none" stroke="#000" stroke-width="2.6"/>
<circle cx="1293.8" cy="1771.2" r="3.9" fill="none" stroke="#000" stroke-width="2.6"/>
<circle cx="1291.2" cy="1776.2" r="3.9" fill="#000" stroke="#000" stroke-width="2.6"/>
<circle cx="1301.2" cy="1776.2" r="3.9" fill="none" stroke="#333" stroke-width="1.9"/>
<circle cx="1293.8" cy="1777.5" r="3.9" fill="#000" stroke="#000" stroke-width="2.6"/>
<circle cx="1202.5" cy="1353" r="3.9" fill="none" stroke="#8a8a8a" stroke-width="1.5"/>
<circle cx="1257.5" cy="1383" r="3.9" fill="none" stroke="#8a8a8a" stroke-width="1.5"/>
<circle cx="1380" cy="1353" r="3.9" fill="#000" stroke="#000" stroke-width="2.6"/>
<circle cx="1401.2" cy="1361.8" r="3.9" fill="#000" stroke="#000" stroke-width="2.6"/>
<circle cx="1541.2" cy="1131.2" r="3.9" fill="none" stroke="#333" stroke-width="1.9"/>
<circle cx="1533.8" cy="1143.8" r="3.9" fill="none" stroke="#333" stroke-width="1.9"/>
<circle cx="1503.8" cy="1185" r="3.9" fill="none" stroke="#8a8a8a" stroke-width="1.5"/>
<circle cx="1497.5" cy="1203.8" r="3.9" fill="none" stroke="#8a8a8a" stroke-width="1.5"/>
<circle cx="1537.5" cy="1225" r="3.9" fill="none" stroke="#8a8a8a" stroke-width="1.5"/>
<circle cx="1575" cy="1221.2" r="3.9" fill="none" stroke="#000" stroke-width="2.6"/>
<circle cx="1580" cy="1216.2" r="3.9" fill="none" stroke="#8a8a8a" stroke-width="1.5"/>
<circle cx="1601.2" cy="1216.2" r="3.9" fill="none" stroke="#8a8a8a" stroke-width="1.5"/>
<circle cx="1522.5" cy="1308" r="3.9" fill="none" stroke="#333" stroke-width="1.9"/>
<circle cx="1523.8" cy="1325" r="3.9" fill="none" stroke="#000" stroke-width="2.6"/>
<circle cx="1505" cy="1335" r="3.9" fill="none" stroke="#8a8a8a" stroke-width="1.5"/>
<circle cx="1492.5" cy="1318.8" r="3.9" fill="none" stroke="#8a8a8a" stroke-width="1.5"/>
<circle cx="1401.8" cy="1362.5" r="3.9" fill="#000" stroke="#000" stroke-width="2.6"/>
<circle cx="1399.2" cy="1480" r="3.9" fill="none" stroke="#333" stroke-width="1.9"/>
<circle cx="1426.2" cy="1511.2" r="3.9" fill="none" stroke="#000" stroke-width="2.6"/>
<circle cx="1467.5" cy="1290" r="3.9" fill="none" stroke="#333" stroke-width="1.9"/>
<circle cx="1476.2" cy="1291.2" r="3.9" fill="none" stroke="#333" stroke-width="1.9"/>
<circle cx="1556.2" cy="814" r="3.9" fill="none" stroke="#333" stroke-width="1.9"/>
<circle cx="1566.2" cy="814" r="3.9" fill="none" stroke="#333" stroke-width="1.9"/>
<circle cx="1507.5" cy="836.5" r="3.9" fill="none" stroke="#333" stroke-width="1.9"/>
<circle cx="1520" cy="906.5" r="3.9" fill="none" stroke="#8a8a8a" stroke-width="1.5"/>
<circle cx="1506.2" cy="916.5" r="3.9" fill="none" stroke="#8a8a8a" stroke-width="1.5"/>
<circle cx="1560" cy="1084" r="3.9" fill="none" stroke="#8a8a8a" stroke-width="1.5"/>
<circle cx="1540" cy="1131.5" r="3.9" fill="none" stroke="#333" stroke-width="1.9"/>
<circle cx="1532.5" cy="1141.5" r="3.9" fill="none" stroke="#333" stroke-width="1.9"/>
<circle cx="1543.8" cy="1055.2" r="3.9" fill="none" stroke="#8a8a8a" stroke-width="1.5"/>
</g>
<g class="dots">
<circle cx="1573.8" cy="556.2" r="14.2" fill="#008000"/>
<circle cx="1336.2" cy="1242.5" r="14.2" fill="#0000ff"/>
<circle cx="1351.2" cy="1241.2" r="14.2" fill="#0000ff"/>
<circle cx="623" cy="497" r="14.2" fill="#008000"/>
<circle cx="625" cy="508.8" r="14.2" fill="#008000"/>
<circle cx="554" cy="565.8" r="14.2" fill="#008000"/>
<circle cx="520" cy="602" r="14.2" fill="#008000"/>
<circle cx="727" cy="605" r="14.2" fill="#008000"/>
<circle cx="734" cy="627.5" r="14.2" fill="#0a9a4c"/>
<circle cx="654" cy="658" r="14.2" fill="#008000"/>
<circle cx="675.5" cy="677" r="14.2" fill="#008000"/>
<circle cx="742.5" cy="671.2" r="14.2" fill="#008000"/>
<circle cx="756.2" cy="673.8" r="14.2" fill="#008000"/>
<circle cx="775" cy="631.2" r="14.2" fill="#008000"/>
<circle cx="788.8" cy="640" r="14.2" fill="#008000"/>
<circle cx="833.8" cy="653" r="14.2" fill="#008000"/>
<circle cx="810" cy="702.5" r="14.2" fill="#008000"/>
<circle cx="825" cy="700" r="14.2" fill="#008000"/>
<circle cx="837.5" cy="695" r="14.2" fill="#008000"/>
<circle cx="838.8" cy="706.2" r="14.2" fill="#0000ff"/>
<circle cx="1620" cy="450" r="14.2" fill="#008000"/>
<circle cx="1596.2" cy="508.8" r="14.2" fill="#4da3f0"/>
<circle cx="1572.5" cy="519.5" r="14.2" fill="#008000"/>
<circle cx="1617.5" cy="532.5" r="14.2" fill="#0000ff"/>
<circle cx="1626.2" cy="543.8" r="14.2" fill="#008000"/>
<circle cx="1600" cy="545" r="14.2" fill="#008000"/>
<circle cx="1606.2" cy="550" r="14.2" fill="#0000ff"/>
<circle cx="1591.2" cy="555" r="14.2" fill="#0000ff"/>
<circle cx="1613.8" cy="573.8" r="14.2" fill="#008000"/>
<circle cx="1730" cy="563" r="14.2" fill="#0000ff"/>
<circle cx="1757" cy="568.8" r="14.2" fill="#008000"/>
<circle cx="1560" cy="578.8" r="14.2" fill="#008000"/>
<circle cx="1546.2" cy="592.5" r="14.2" fill="#008000"/>
<circle cx="1571.2" cy="596.2" r="14.2" fill="#008000"/>
<circle cx="1622.5" cy="600" r="14.2" fill="#008000"/>
<circle cx="1613.8" cy="610" r="14.2" fill="#0000ff"/>
<circle cx="1578.8" cy="612.5" r="14.2" fill="#008000"/>
<circle cx="1553.8" cy="623.8" r="14.2" fill="#008000"/>
<circle cx="1586.2" cy="636.2" r="14.2" fill="#008000"/>
<circle cx="1576.2" cy="648.8" r="14.2" fill="#008000"/>
<circle cx="1471.2" cy="596.2" r="14.2" fill="#0000ff"/>
<circle cx="1468" cy="603.8" r="14.2" fill="#0000ff"/>
<circle cx="1410.5" cy="639.2" r="14.2" fill="#0000ff"/>
<circle cx="1376.2" cy="665" r="14.2" fill="#0000ff"/>
<circle cx="1652.5" cy="657.5" r="14.2" fill="#0000ff"/>
<circle cx="1711.2" cy="696.2" r="14.2" fill="#008000"/>
<circle cx="1597.5" cy="677.5" r="14.2" fill="#0000ff"/>
<circle cx="1592.5" cy="686.2" r="14.2" fill="#008000"/>
<circle cx="1543.8" cy="685" r="14.2" fill="#008000"/>
<circle cx="1563.8" cy="690" r="14.2" fill="#0000ff"/>
<circle cx="1575" cy="697.5" r="14.2" fill="#0000ff"/>
<circle cx="1550" cy="700" r="14.2" fill="#008000"/>
<circle cx="1527.5" cy="700" r="14.2" fill="#0000ff"/>
<circle cx="1511.2" cy="702.5" r="14.2" fill="#008000"/>
<circle cx="1500" cy="710" r="14.2" fill="#008000"/>
<circle cx="851.2" cy="759" r="14.2" fill="#008000"/>
<circle cx="853.8" cy="751.5" r="14.2" fill="#1430f0"/>
<circle cx="875" cy="754" r="14.2" fill="#5596f5"/>
<circle cx="887.5" cy="761.5" r="14.2" fill="#008000"/>
<circle cx="893.8" cy="765.2" r="14.2" fill="#008000"/>
<circle cx="886.2" cy="771.5" r="14.2" fill="#008000"/>
<circle cx="988.8" cy="804" r="14.2" fill="#0000ff"/>
<circle cx="1015" cy="814" r="14.2" fill="#008000"/>
<circle cx="1031.2" cy="814" r="14.2" fill="#0000ff"/>
<circle cx="1026.2" cy="826.5" r="14.2" fill="#008000"/>
<circle cx="848.8" cy="900.2" r="14.2" fill="#008000"/>
<circle cx="950.5" cy="893.5" r="14.2" fill="#3366f5"/>
<circle cx="1070" cy="877.1" r="14.2" fill="#008000"/>
<circle cx="1087.1" cy="887.1" r="14.2" fill="#008000"/>
<circle cx="1375.7" cy="665.7" r="14.2" fill="#0000ff"/>
<circle cx="1456.4" cy="870" r="14.2" fill="#008000"/>
<circle cx="1477.1" cy="741.4" r="14.2" fill="#008000"/>
<circle cx="1500" cy="707.1" r="14.2" fill="#008000"/>
<circle cx="1511.4" cy="700" r="14.2" fill="#008000"/>
<circle cx="1542.9" cy="684.3" r="14.2" fill="#008000"/>
<circle cx="1528.6" cy="700" r="14.2" fill="#0000ff"/>
<circle cx="1537.1" cy="718.6" r="14.2" fill="#008000"/>
<circle cx="1508.6" cy="732.9" r="14.2" fill="#0000ff"/>
<circle cx="1521.4" cy="751.4" r="14.2" fill="#0000ff"/>
<circle cx="1564.3" cy="688.6" r="14.2" fill="#0000ff"/>
<circle cx="1574.3" cy="698.6" r="14.2" fill="#0000ff"/>
<circle cx="1592.9" cy="685.7" r="14.2" fill="#008000"/>
<circle cx="1522.9" cy="790" r="14.2" fill="#008000"/>
<circle cx="1535.7" cy="787.1" r="14.2" fill="#0000ff"/>
<circle cx="1504.3" cy="858.6" r="14.2" fill="#0000ff"/>
<circle cx="1488.6" cy="870" r="14.2" fill="#30b8c0"/>
<circle cx="1492.9" cy="880" r="14.2" fill="#12a88c"/>
<circle cx="1511.4" cy="884.3" r="14.2" fill="#0000ff"/>
<circle cx="1505.7" cy="871.4" r="14.2" fill="#0000ff"/>
<circle cx="1477.5" cy="914" r="14.2" fill="#0000ff"/>
<circle cx="1498.8" cy="991.5" r="14.2" fill="#0000ff"/>
<circle cx="1505" cy="1006.5" r="14.2" fill="#0000ff"/>
<circle cx="1455" cy="1061.5" r="14.2" fill="#0000ff"/>
<circle cx="1483.8" cy="1069" r="14.2" fill="#0000ff"/>
<circle cx="1503.8" cy="1051.5" r="14.2" fill="#008000"/>
<circle cx="1525" cy="1046.5" r="14.2" fill="#0000ff"/>
<circle cx="1527.5" cy="1071.5" r="14.2" fill="#008000"/>
<circle cx="1510" cy="1081.5" r="14.2" fill="#008000"/>
<circle cx="1535" cy="1099" r="14.2" fill="#0000ff"/>
<circle cx="1527.5" cy="1111.5" r="14.2" fill="#0000ff"/>
<circle cx="1515" cy="1121.5" r="14.2" fill="#0000ff"/>
<circle cx="1495" cy="1130.2" r="14.2" fill="#0000ff"/>
<circle cx="1510" cy="1139" r="14.2" fill="#0000ff"/>
<circle cx="1517.5" cy="1148" r="14.2" fill="#0000ff"/>
<circle cx="1001.2" cy="1170.5" r="14.2" fill="#008000"/>
<circle cx="1044.5" cy="1158" r="14.2" fill="#008000"/>
<circle cx="1032.5" cy="1184.2" r="14.2" fill="#008000"/>
<circle cx="1067.5" cy="1178" r="14.2" fill="#008000"/>
<circle cx="1042.5" cy="1203" r="14.2" fill="#0000ff"/>
<circle cx="1063.8" cy="1189.2" r="14.2" fill="#0000ff"/>
<circle cx="1083.8" cy="1184.2" r="14.2" fill="#008000"/>
<circle cx="1052.5" cy="1211.8" r="14.2" fill="#008000"/>
<circle cx="955.5" cy="1201" r="14.2" fill="#0000ff"/>
<circle cx="1017.5" cy="1218" r="14.2" fill="#0000ff"/>
<circle cx="1003.8" cy="1225.5" r="14.2" fill="#0000ff"/>
<circle cx="1002.5" cy="1233" r="14.2" fill="#0000ff"/>
<circle cx="1015" cy="1265.5" r="14.2" fill="#0000ff"/>
<circle cx="1042.5" cy="1260.5" r="14.2" fill="#0000ff"/>
<circle cx="1050" cy="1270.5" r="14.2" fill="#0000ff"/>
<circle cx="1032.5" cy="1275.5" r="14.2" fill="#0000ff"/>
<circle cx="1030" cy="1285.5" r="14.2" fill="#0000ff"/>
<circle cx="1066.2" cy="1263" r="14.2" fill="#008000"/>
<circle cx="967.5" cy="1311.8" r="14.2" fill="#0000ff"/>
<circle cx="1373.8" cy="1250.5" r="14.2" fill="#008000"/>
<circle cx="1376.2" cy="1295.5" r="14.2" fill="#0000ff"/>
<circle cx="1405" cy="1280.5" r="14.2" fill="#0000ff"/>
<circle cx="1257.5" cy="1316.8" r="14.2" fill="#0000ff"/>
<circle cx="1246.2" cy="1305.5" r="14.2" fill="#008000"/>
<circle cx="1470" cy="1155" r="14.2" fill="#008000"/>
<circle cx="1515" cy="1153.8" r="14.2" fill="#0000ff"/>
<circle cx="1500" cy="1166.2" r="14.2" fill="#0000ff"/>
<circle cx="1485" cy="1195" r="14.2" fill="#0000ff"/>
<circle cx="1478.8" cy="1205" r="14.2" fill="#0000ff"/>
<circle cx="1467.5" cy="1217.5" r="14.2" fill="#0000ff"/>
<circle cx="1408.8" cy="1281.2" r="14.2" fill="#0000ff"/>
<circle cx="1145" cy="971.7" r="14.2" fill="#0000ff"/>
<circle cx="1114.2" cy="1039.2" r="14.2" fill="#0000ff"/>
<circle cx="1195.8" cy="1081.7" r="14.2" fill="#0000ff"/>
<circle cx="1159.2" cy="1112.5" r="14.2" fill="#0000ff"/>
<circle cx="1145.8" cy="1131.7" r="14.2" fill="#0000ff"/>
<circle cx="1161.7" cy="1183.3" r="14.2" fill="#089a50"/>
<circle cx="1156.7" cy="1200.8" r="14.2" fill="#0000ff"/>
<circle cx="1310" cy="1004.2" r="14.2" fill="#0000ff"/>
<circle cx="1320" cy="1011.7" r="14.2" fill="#0000ff"/>
<circle cx="1323.3" cy="1040" r="14.2" fill="#0000ff"/>
<circle cx="1314.2" cy="1031.7" r="14.2" fill="#008000"/>
<circle cx="1276.7" cy="1054.2" r="14.2" fill="#0000ff"/>
<circle cx="1298.3" cy="1050" r="14.2" fill="#0000ff"/>
<circle cx="1370.8" cy="1055" r="14.2" fill="#0000ff"/>
<circle cx="1403.3" cy="1061.7" r="14.2" fill="#0000ff"/>
<circle cx="1391.7" cy="1089.2" r="14.2" fill="#2f5cf2"/>
<circle cx="1361.7" cy="1096.7" r="14.2" fill="#0000ff"/>
<circle cx="1376.7" cy="1106.7" r="14.2" fill="#0000ff"/>
<circle cx="1390" cy="1110" r="14.2" fill="#0000ff"/>
<circle cx="1385" cy="1120" r="14.2" fill="#0000ff"/>
<circle cx="1372.5" cy="1160.8" r="14.2" fill="#0000ff"/>
<circle cx="1245" cy="1160" r="14.2" fill="#0000ff"/>
<circle cx="1271.7" cy="1170" r="14.2" fill="#0000ff"/>
<circle cx="1234.2" cy="1179.2" r="14.2" fill="#0000ff"/>
<circle cx="1273.3" cy="1184.2" r="14.2" fill="#0000ff"/>
<circle cx="1236.7" cy="1201.7" r="14.2" fill="#0000ff"/>
<circle cx="1248.3" cy="1208.3" r="14.2" fill="#008000"/>
<circle cx="1296.7" cy="1211.7" r="14.2" fill="#0000ff"/>
<circle cx="1330" cy="1208.3" r="14.2" fill="#008000"/>
<circle cx="1358.3" cy="1198.3" r="14.2" fill="#008000"/>
<circle cx="1366.7" cy="1220" r="14.2" fill="#008000"/>
<circle cx="1238.3" cy="1228.3" r="14.2" fill="#0000ff"/>
<circle cx="1253.3" cy="1226.7" r="14.2" fill="#008000"/>
<circle cx="1263.3" cy="1235" r="14.2" fill="#008000"/>
<circle cx="1291.7" cy="1230" r="14.2" fill="#0000ff"/>
<circle cx="1373.3" cy="1236.7" r="14.2" fill="#008000"/>
<circle cx="1435" cy="1243.3" r="14.2" fill="#0000ff"/>
<circle cx="1405" cy="976.7" r="14.2" fill="#008000"/>
<circle cx="1411.7" cy="965" r="14.2" fill="#008000"/>
<circle cx="1440" cy="1010" r="14.2" fill="#0000ff"/>
<circle cx="1430" cy="1031.7" r="14.2" fill="#0000ff"/>
<circle cx="1450" cy="1063.3" r="14.2" fill="#0000ff"/>
<circle cx="1176.7" cy="713.5" r="14.2" fill="#1428f5"/>
<circle cx="1226.7" cy="724.3" r="14.2" fill="#0000ff"/>
<circle cx="1236.7" cy="738.5" r="14.2" fill="#0000ff"/>
<circle cx="1301.7" cy="735.2" r="14.2" fill="#008000"/>
<circle cx="1288.3" cy="738.5" r="14.2" fill="#0000ff"/>
<circle cx="1296.7" cy="754.3" r="14.2" fill="#0000ff"/>
<circle cx="1308.3" cy="776" r="14.2" fill="#0000ff"/>
<circle cx="1323.3" cy="720.2" r="14.2" fill="#008000"/>
<circle cx="1333.3" cy="737.7" r="14.2" fill="#008000"/>
<circle cx="1338.3" cy="715.2" r="14.2" fill="#0000ff"/>
<circle cx="1388.3" cy="719.3" r="14.2" fill="#008000"/>
<circle cx="1373.3" cy="729.3" r="14.2" fill="#3f8ef0"/>
<circle cx="1365" cy="741" r="14.2" fill="#0000ff"/>
<circle cx="1383.3" cy="734.3" r="14.2" fill="#0000ff"/>
<circle cx="1416.7" cy="698.5" r="14.2" fill="#008000"/>
<circle cx="1433.3" cy="702.7" r="14.2" fill="#0000ff"/>
<circle cx="1438.3" cy="692.7" r="14.2" fill="#0000ff"/>
<circle cx="1370" cy="770.2" r="14.2" fill="#008000"/>
<circle cx="1280" cy="782.7" r="14.2" fill="#008000"/>
<circle cx="1291.7" cy="797.7" r="14.2" fill="#0000ff"/>
<circle cx="1281.7" cy="816" r="14.2" fill="#0000ff"/>
<circle cx="1266.7" cy="831" r="14.2" fill="#0000ff"/>
<circle cx="1283.3" cy="836" r="14.2" fill="#0000ff"/>
<circle cx="1238.3" cy="829.3" r="14.2" fill="#0000ff"/>
<circle cx="1353.3" cy="794.3" r="14.2" fill="#008000"/>
<circle cx="1343.3" cy="796" r="14.2" fill="#0000ff"/>
<circle cx="1320" cy="801.8" r="14.2" fill="#55c6e2"/>
<circle cx="1416.7" cy="827.7" r="14.2" fill="#008000"/>
<circle cx="1140.8" cy="803.5" r="14.2" fill="#008000"/>
<circle cx="1105" cy="856" r="14.2" fill="#0000ff"/>
<circle cx="1121.7" cy="856" r="14.2" fill="#008000"/>
<circle cx="1138.3" cy="857.7" r="14.2" fill="#008000"/>
<circle cx="1155" cy="847.7" r="14.2" fill="#008000"/>
<circle cx="1155" cy="862.7" r="14.2" fill="#008000"/>
<circle cx="1170" cy="869.3" r="14.2" fill="#008000"/>
<circle cx="1201.7" cy="861" r="14.2" fill="#008000"/>
<circle cx="1190" cy="866" r="14.2" fill="#0000ff"/>
<circle cx="1205" cy="874.3" r="14.2" fill="#0000ff"/>
<circle cx="1106.7" cy="876" r="14.2" fill="#0000ff"/>
<circle cx="1121.7" cy="896" r="14.2" fill="#008000"/>
<circle cx="1110" cy="906" r="14.2" fill="#0000ff"/>
<circle cx="1276.7" cy="887.7" r="14.2" fill="#0000ff"/>
<circle cx="1259.2" cy="941" r="14.2" fill="#0000ff"/>
<circle cx="1395" cy="901" r="14.2" fill="#008000"/>
<circle cx="1395" cy="905.2" r="14.2" fill="#0000ff"/>
<circle cx="1431.7" cy="897.7" r="14.2" fill="#0000ff"/>
<circle cx="1446.7" cy="911" r="14.2" fill="#0000ff"/>
<circle cx="1413.3" cy="956" r="14.2" fill="#008000"/>
<circle cx="1098.8" cy="891.5" r="14.2" fill="#0000ff"/>
</g>
<defs>
<linearGradient id="cb" x1="0" y1="0" x2="0" y2="1">
<stop offset="0" stop-color="#008000"/>
<stop offset="0.1" stop-color="#028a14"/>
<stop offset="0.2" stop-color="#06994c"/>
<stop offset="0.3" stop-color="#08a87a"/>
<stop offset="0.4" stop-color="#12b2a8"/>
<stop offset="0.45" stop-color="#2cbcd0"/>
<stop offset="0.5" stop-color="#5ccaf0"/>
<stop offset="0.6" stop-color="#4899f4"/>
<stop offset="0.7" stop-color="#3272f8"/>
<stop offset="0.8" stop-color="#2049fc"/>
<stop offset="0.9" stop-color="#0f22fe"/>
<stop offset="1" stop-color="#0000ff"/>
</linearGradient>
</defs>
<!-- inset histogram -->
<g id="inset">
<rect x="196" y="1278.5" width="712" height="523" fill="#fff" stroke="none"/>
<line x1="194" y1="1277" x2="911" y2="1277" stroke="#000" stroke-width="3.3"/>
<line x1="909.6" y1="1276" x2="909.6" y2="1802" stroke="#000" stroke-width="3.3"/>
<g fill="#0000ff" stroke="#b5651d" stroke-width="0.8">
<rect x="383" y="1537" width="6.5" height="127.5" stroke="none"/>
<rect x="398" y="1605.5" width="19.7" height="59"/>
<rect x="427" y="1555" width="19.5" height="109.5"/>
<rect x="456" y="1497.7" width="20.8" height="166.8"/>
<rect x="487.2" y="1390" width="19.8" height="274.5"/>
<rect x="516.8" y="1555" width="19.8" height="109.5"/>
<rect x="547.4" y="1555" width="18.7" height="109.5"/>
<rect x="574" y="1555" width="19.2" height="109.5"/>
</g>
<g fill="#07690f" stroke="#3f9a52" stroke-width="1.6">
<rect x="602" y="1612.4" width="24.3" height="52"/>
<rect x="635" y="1612.4" width="22.5" height="52"/>
<rect x="662.8" y="1556.8" width="24.2" height="107.7"/>
<rect x="694" y="1612.4" width="22.6" height="52"/>
<rect x="723.6" y="1443.8" width="22.6" height="220.7"/>
<rect x="753" y="1499.4" width="24.5" height="165"/>
<rect x="782.7" y="1612.4" width="24.3" height="52"/>
</g>
<g stroke="#4a4a4a" stroke-width="2.6" fill="none">
<line x1="383" y1="1664.5" x2="815" y2="1664.5"/>
<line x1="384.5" y1="1664" x2="384.5" y2="1676"/>
<line x1="598.5" y1="1664" x2="598.5" y2="1676"/>
<line x1="814" y1="1664" x2="814" y2="1676"/>
</g>
<line x1="390" y1="1664.2" x2="596" y2="1664.2" stroke="#7a3c10" stroke-width="2.4"/>
<text x="418" y="1350.5" font-size="69" style="fill:#0000ff;stroke:#0000ff" textLength="196.5" lengthAdjust="spacingAndGlyphs">mean=</text>
<text x="630" y="1350.5" font-size="69" style="fill:#0000ff;stroke:#0000ff" textLength="168.5" lengthAdjust="spacingAndGlyphs">−4152</text>
<text x="348.2" y="1437" font-size="42" text-anchor="middle" style="fill:#0000ff;stroke:#0000ff;stroke-width:0.6px" textLength="128.5" lengthAdjust="spacingAndGlyphs">75.20%</text>
<text x="742.7" y="1426.5" font-size="42" text-anchor="middle" style="fill:#008000;stroke:#008000;stroke-width:0.6px" textLength="128.5" lengthAdjust="spacingAndGlyphs">24.80%</text>
<text x="369" y="1729" font-size="45" text-anchor="middle" textLength="160" lengthAdjust="spacingAndGlyphs">−10,000</text>
<text x="596.8" y="1729" font-size="45" text-anchor="middle">0</text>
<text x="768.8" y="1729" font-size="45" text-anchor="middle" textLength="132" lengthAdjust="spacingAndGlyphs">10,000</text>
<text x="556.8" y="1784.5" font-size="40" text-anchor="middle" textLength="233" lengthAdjust="spacingAndGlyphs">Δpeak NDVI</text>
<text transform="translate(254.3 1560) rotate(-90)" font-size="60" text-anchor="middle" textLength="264" lengthAdjust="spacingAndGlyphs">Frequency</text>
</g>
<!-- frame -->
<rect x="194.3" y="34.5" width="1702.9" height="1767.3" fill="none" stroke="#000" stroke-width="4"/>
<!-- axis ticks -->
<g stroke="#000" stroke-width="3.4" fill="none">
<line x1="176" y1="250.5" x2="194" y2="250.5"/>
<line x1="176" y1="1035" x2="194" y2="1035"/>
<line x1="176" y1="1647" x2="194" y2="1647"/>
<line x1="322.7" y1="1802" x2="322.7" y2="1820"/>
<line x1="1110" y1="1802" x2="1110" y2="1820"/>
<line x1="1897.2" y1="1802" x2="1897.2" y2="1820"/>
</g>
<g font-size="67">
<text x="154" y="275" text-anchor="end">54°N</text>
<text x="154" y="1060" text-anchor="end">32°N</text>
<text x="154" y="1671" text-anchor="end">10°N</text>
<text x="322.7" y="1885.6" text-anchor="middle" textLength="128.7" lengthAdjust="spacingAndGlyphs">75°E</text>
<text x="1110" y="1885.6" text-anchor="middle" textLength="210" lengthAdjust="spacingAndGlyphs">105.5°E</text>
<text x="1896.6" y="1885.6" text-anchor="middle" textLength="159.3" lengthAdjust="spacingAndGlyphs">136°E</text>
</g>
<!-- north arrow -->
<g id="north">
<text x="1795.5" y="146.3" font-size="80" text-anchor="middle" style="font-family:'Liberation Sans','DejaVu Sans',sans-serif;stroke:#000;stroke-width:1.6">N</text>
<polygon points="1794.7,161.8 1740.3,353.3 1794.7,288.7 1851.1,354.3" fill="#000"/>
<polygon points="1797.8,190 1833.6,323.5 1797.8,283.5" fill="#fff"/>
</g>
<!-- scale bar -->
<line x1="1698.3" y1="1688.8" x2="1814.1" y2="1688.8" stroke="#000" stroke-width="6"/>
<text x="1654.6" y="1746.7" font-size="68" textLength="95" lengthAdjust="spacingAndGlyphs">500</text>
<text x="1767" y="1746.7" font-size="68" textLength="91" lengthAdjust="spacingAndGlyphs">km</text>
<!-- colorbar -->
<rect x="1972.3" y="34.5" width="36" height="1768" fill="url(#cb)" stroke="#000" stroke-width="3.8"/>
<g stroke="#000" stroke-width="3.2">
<line x1="1990" y1="388.2" x2="2008" y2="388.2"/>
<line x1="1990" y1="741.8" x2="2008" y2="741.8"/>
<line x1="1990" y1="1095.2" x2="2008" y2="1095.2"/>
<line x1="1990" y1="1448.8" x2="2008" y2="1448.8"/>
</g>
<g font-size="67">
<text x="2025.3" y="59" textLength="125" lengthAdjust="spacingAndGlyphs">5000</text>
<text x="2025.3" y="412.7" textLength="125" lengthAdjust="spacingAndGlyphs">3000</text>
<text x="2028" y="766.3" textLength="122" lengthAdjust="spacingAndGlyphs">1000</text>
<text x="2026" y="1119.7" textLength="156" lengthAdjust="spacingAndGlyphs">−1000</text>
<text x="2026" y="1473.3" textLength="156" lengthAdjust="spacingAndGlyphs">−3000</text>
<text x="2026" y="1826.8" textLength="156" lengthAdjust="spacingAndGlyphs">−5000</text>
</g>
<text transform="translate(2266 918.7) rotate(-90)" font-size="86" text-anchor="middle" textLength="474" lengthAdjust="spacingAndGlyphs">Δ peak NDVI</text>

</g>
</svg>
</body>
</html>
